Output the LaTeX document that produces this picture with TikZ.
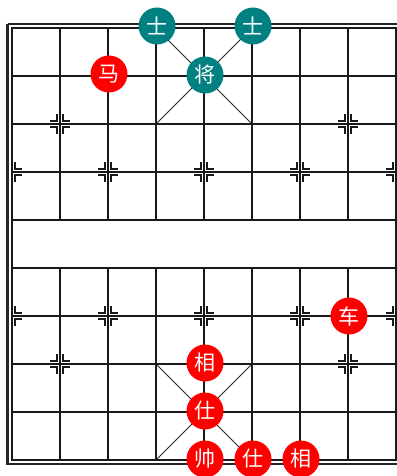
\documentclass[tikz,border=0pt]{standalone}
\usepackage{fontspec}
\newfontfamily\cjk{Noto Sans CJK SC}
\definecolor{teal}{HTML}{008080}
\definecolor{redp}{HTML}{FF0000}
\tikzset{
  gridline/.style={line width=1.6pt,draw=black!90},
  diag/.style={line width=1pt,draw=black!85},
  piece/.style={circle,minimum size=37pt,inner sep=0pt,text=white,font=\cjk\fontsize{21}{21}\selectfont},
  redpiece/.style={piece,fill=redp},
  bluepiece/.style={piece,fill=teal},
  markline/.style={line width=1.5pt,draw=black!90},
  pics/markL/.style={code={
    \draw[markline] (-3,-10)--(-3,-3)--(-10,-3);
    \draw[markline] (-3,10)--(-3,3)--(-10,3);}},
  pics/markR/.style={code={
    \draw[markline] (3,-10)--(3,-3)--(10,-3);
    \draw[markline] (3,10)--(3,3)--(10,3);}},
}
\begin{document}
\begin{tikzpicture}[x=1pt,y=-1pt]
\useasboundingbox (0,0) rectangle (396,476);
\fill[white] (0,0) rectangle (396,476);
% outer border
\draw[line width=2.4pt,draw=black!85] (7.5,24) -- (401,24);
\draw[line width=2.4pt,draw=black!85] (7.5,24) -- (7.5,464) -- (401,464);
% horizontal lines
\foreach \j in {0,...,9}{
  \draw[gridline] (11.2,28+48*\j) -- (397,28+48*\j);
}
% vertical lines
\foreach \i in {0,8}{
  \draw[gridline] (12+48*\i,28) -- (12+48*\i,460);
}
\foreach \i in {1,...,7}{
  \draw[gridline] (12+48*\i,28) -- (12+48*\i,220);
  \draw[gridline] (12+48*\i,268) -- (12+48*\i,460);
}
% palace corners
\coordinate (pa1) at (156,28); \coordinate (pa2) at (252,28);
\coordinate (pa3) at (156,124); \coordinate (pa4) at (252,124);
\coordinate (pb1) at (156,364); \coordinate (pb2) at (252,364);
\coordinate (pb3) at (156,460); \coordinate (pb4) at (252,460);
\draw[diag] (pa1) -- (pa4); \draw[diag] (pa2) -- (pa3);
\draw[diag] (pb1) -- (pb4); \draw[diag] (pb2) -- (pb3);
% position marks
\foreach \x/\y in {60/124,348/124,60/364,348/364,108/172,204/172,300/172,108/316,204/316,300/316}{
  \pic at (\x,\y) {markL};
  \pic at (\x,\y) {markR};
}
\foreach \y in {172,316}{
  \pic at (12,\y) {markR};
  \pic at (396,\y) {markL};
}
% black (teal) pieces
\node[bluepiece] (bs1) at (157,26) {士};
\node[bluepiece] (bs2) at (253,26) {士};
\node[bluepiece] (bk) at (205,75) {将};
\node[redpiece] (rm) at (109,74) {马};
% red pieces
\node[redpiece] (rc) at (349,316) {车};
\node[redpiece] (rx1) at (205,363) {相};
\node[redpiece] (rs1) at (205,411) {仕};
\node[redpiece] (rk) at (205,459) {帅};
\node[redpiece] (rs2) at (253,459) {仕};
\node[redpiece] (rx2) at (301,459) {相};
\end{tikzpicture}
\end{document}
